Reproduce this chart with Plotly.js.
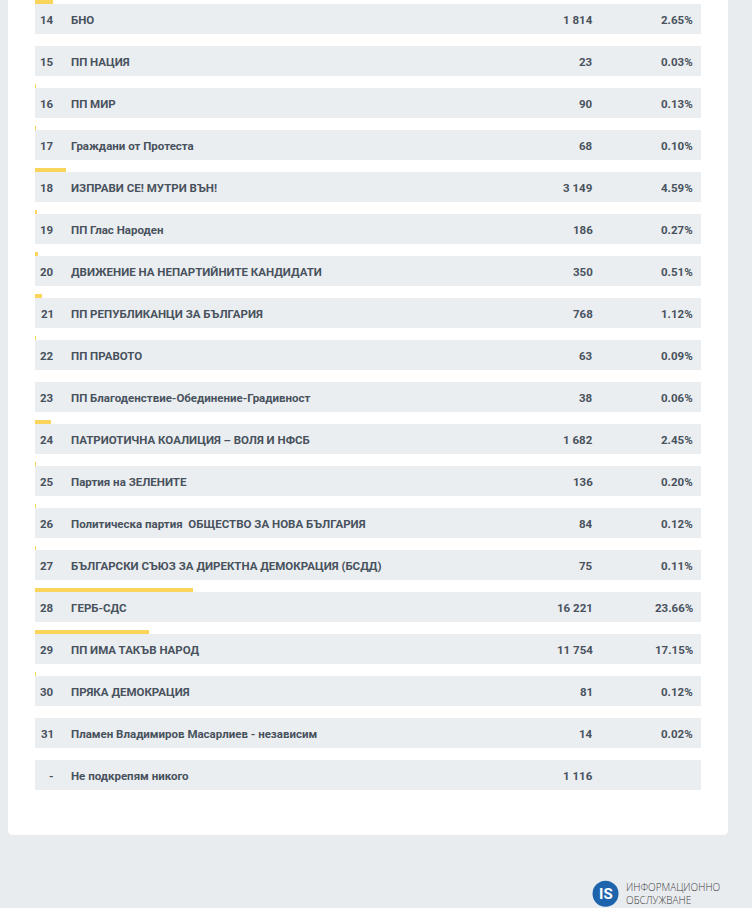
<!DOCTYPE html>
<html>
<head>
<meta charset="utf-8">
<script src="https://cdn.plot.ly/plotly-3.0.1.min.js"></script>
<style>html,body{margin:0;padding:0;background:#e9ecef;}#chart{width:752px;height:908px;}</style>
</head>
<body>
<div id="chart"></div>
<script>
var numbers = ['14','15','16','17','18','19','20','21','22','23','24','25','26','27','28','29','30','31','-'];
var names = [
  'БНО',
  'ПП НАЦИЯ',
  'ПП МИР',
  'Граждани от Протеста',
  'ИЗПРАВИ СЕ! МУТРИ ВЪН!',
  'ПП Глас Народен',
  'ДВИЖЕНИЕ НА НЕПАРТИЙНИТЕ КАНДИДАТИ',
  'ПП РЕПУБЛИКАНЦИ ЗА БЪЛГАРИЯ',
  'ПП ПРАВОТО',
  'ПП Благоденствие-Обединение-Градивност',
  'ПАТРИОТИЧНА КОАЛИЦИЯ – ВОЛЯ И НФСБ',
  'Партия на ЗЕЛЕНИТЕ',
  'Политическа партия&nbsp; ОБЩЕСТВО ЗА НОВА БЪЛГАРИЯ',
  'БЪЛГАРСКИ СЪЮЗ ЗА ДИРЕКТНА ДЕМОКРАЦИЯ (БСДД)',
  'ГЕРБ-СДС',
  'ПП ИМА ТАКЪВ НАРОД',
  'ПРЯКА ДЕМОКРАЦИЯ',
  'Пламен Владимиров Масарлиев - независим',
  'Не подкрепям никого'
];
var votes = [1814, 23, 90, 68, 3149, 186, 350, 768, 63, 38, 1682, 136, 84, 75, 16221, 11754, 81, 14, 1116];
var percents = [2.65, 0.03, 0.13, 0.10, 4.59, 0.27, 0.51, 1.12, 0.09, 0.06, 2.45, 0.20, 0.12, 0.11, 23.66, 17.15, 0.12, 0.02, null];

var rowPx = 42, rectPx = 30, barPx = 4.5;
var idx = names.map(function(_, i){ return i; });
function fmtVotes(v){ return String(v).replace(/\B(?=(\d{3})+(?!\d))/g, ' '); }
function fmtPct(p){ return p === null ? '' : p.toFixed(2) + '%'; }

var textColor = '#48525d';
var font = {family: 'Roboto, sans-serif', size: 11.5, color: textColor, weight: 700};

var traces = [
  {
    type: 'bar', orientation: 'h',
    x: idx.map(function(){ return 100; }), y: idx, base: 0,
    width: rectPx / rowPx,
    marker: {color: '#ebeef1', line: {width: 0}},
    hoverinfo: 'skip', showlegend: false
  },
  {
    type: 'bar', orientation: 'h',
    x: percents, y: idx, base: 0,
    width: barPx / rowPx,
    offset: -(rectPx / 2 + barPx) / rowPx,
    marker: {color: '#fbd45b', line: {width: 0}},
    hoverinfo: 'skip', showlegend: false
  }
];

var annotations = [];
idx.forEach(function(i){
  var common = {xref: 'x', yref: 'y', y: i, showarrow: false, yanchor: 'middle', font: font, borderpad: 0, yshift: -1};
  annotations.push(Object.assign({x: 3.0, text: numbers[i], xanchor: 'right'}, common));
  annotations.push(Object.assign({x: 5.26, text: names[i], xanchor: 'left'}, common));
  annotations.push(Object.assign({x: 84.0, text: fmtVotes(votes[i]), xanchor: 'right'}, common));
  annotations.push(Object.assign({x: 98.9, text: fmtPct(percents[i]), xanchor: 'right'}, common));
});

// logo
annotations.push({x: 0.8299, y: -0.0703, xref: 'paper', yref: 'paper', text: '<b>IS</b>', showarrow: false, xanchor: 'center', yanchor: 'middle', font: {family: 'Roboto, sans-serif', size: 15, color: '#ffffff'}});
annotations.push({x: 0.857, y: -0.0699, xref: 'paper', yref: 'paper', text: 'ИНФОРМАЦИОННО<br>ОБСЛУЖВАНЕ', showarrow: false, xanchor: 'left', yanchor: 'middle', align: 'left', font: {family: '"Open Sans", sans-serif', size: 10, color: '#3d3d3d', weight: 300}, borderpad: 0});

var W = 720, H = 835, r = 5;
var rx = r / W, ry = r / H;
var cardPath = 'M 0,1.02 L 0,' + ry + ' Q 0,0 ' + rx + ',0 L ' + (1 - rx) + ',0 Q 1,0 1,' + ry + ' L 1,1.02 Z';

var layout = {
  width: 752, height: 908,
  margin: {l: 8, r: 24, t: 0, b: 73, pad: 0},
  paper_bgcolor: '#e9ecef',
  plot_bgcolor: 'rgba(0,0,0,0)',
  barmode: 'overlay',
  bargap: 0,
  showlegend: false,
  xaxis: {range: [-27 / 6.66, 693 / 6.66], visible: false, fixedrange: true},
  yaxis: {range: [(835 - 19) / rowPx, -19 / rowPx], visible: false, fixedrange: true},
  annotations: annotations,
  shapes: [
    {type: 'path', xref: 'paper', yref: 'paper', path: cardPath, fillcolor: '#ffffff', line: {width: 0}, layer: 'below'},
    {type: 'circle', xref: 'paper', yref: 'paper', xsizemode: 'pixel', ysizemode: 'pixel', xanchor: 0.8299, yanchor: -0.0703, x0: -13, x1: 13, y0: -13, y1: 13, fillcolor: '#1d64ad', line: {width: 0}, layer: 'above'}
  ]
};

Plotly.newPlot('chart', traces, layout, {displayModeBar: false, staticPlot: true});
</script>
</body>
</html>
